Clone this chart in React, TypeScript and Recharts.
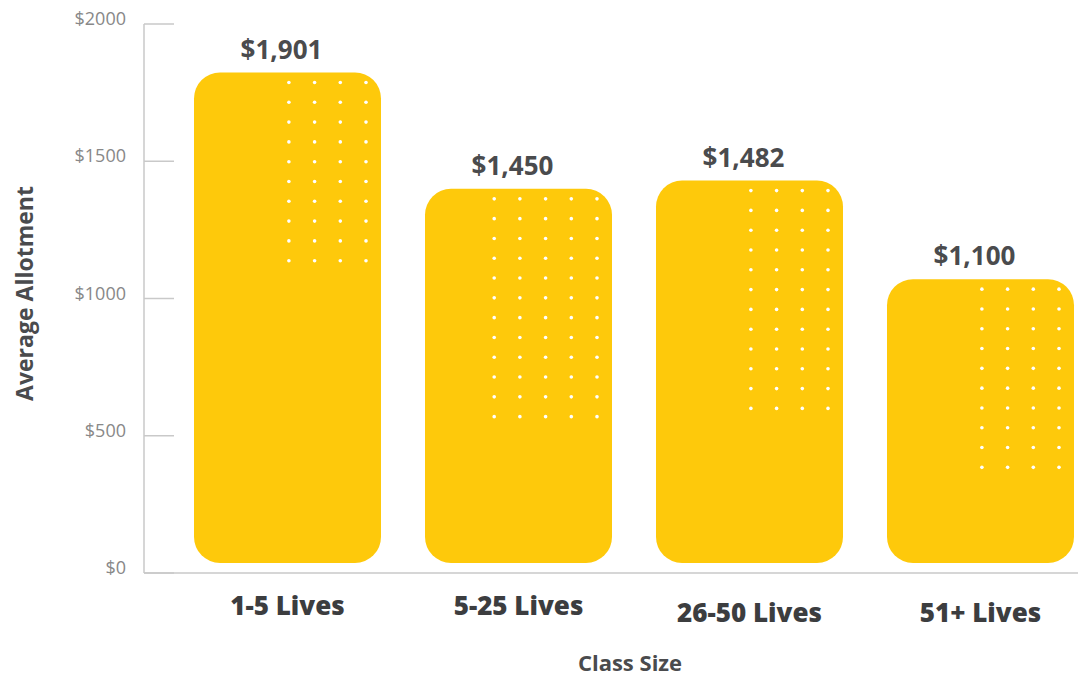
import { ComposedChart, Bar, Line, XAxis, YAxis, LabelList, Rectangle } from "recharts";

const categories = ["1-5 Lives", "5-25 Lives", "26-50 Lives", "51+ Lives"];
const allotments = [1901, 1450, 1482, 1100];
const yTicks = [0, 500, 1000, 1500, 2000];

// decoration only: dot grid size per bar
const dotCols = [4, 5, 4, 4];
const dotRows = [10, 12, 12, 10];

const data = categories.map((c, i) => ({ classSize: c, allotment: allotments[i] }));

const FONT = "'Open Sans', 'DejaVu Sans', sans-serif";
const YELLOW = "#FEC90B";
const AXIS = "#c9c9c9";
const DARK = "#4a4b4d";

function DottedBar(props: any) {
    const { x, y, width, height, index } = props;
    const dots = [];
    const right = x + width - 15;
    for (let c = 0; c < dotCols[index]; c++) {
        for (let r = 0; r < dotRows[index]; r++) {
            dots.push(
                <circle
                    key={`${c}-${r}`}
                    cx={right - (dotCols[index] - 1 - c) * 25.7}
                    cy={y + 10 + r * 19.8}
                    r={1.8}
                    fill="#fff"
                />
            );
        }
    }
    return (
        <g>
            <defs>
                <clipPath id={`bar-clip-${index}`}>
                    <Rectangle x={x} y={y} width={width} height={height} radius={26} />
                </clipPath>
            </defs>
            <Rectangle x={x} y={y} width={width} height={height} radius={26} fill={YELLOW} />
            <g clipPath={`url(#bar-clip-${index})`}>{dots}</g>
        </g>
    );
}

function YTick(props: any) {
    const { x, y, payload } = props;
    return (
        <g>
            <line x1={x} x2={x + 30} y1={y} y2={y} stroke={AXIS} strokeWidth={1.5} />
            <text
                x={x - 18}
                y={y - 6}
                textAnchor="end"
                dominantBaseline="central"
                fill="#888888"
                fontSize={18}
                fontFamily={FONT}
                fontWeight={400}
            >
                ${payload.value}
            </text>
        </g>
    );
}

function XTick(props: any) {
    const { x, y, payload, index } = props;
    return (
        <text
            x={x}
            y={y + (index >= 2 ? 47 : 40)}
            textAnchor="middle"
            fill="#3c3d3f"
            fontSize={26}
            fontFamily={FONT}
            fontWeight={800}
        >
            {payload.value}
        </text>
    );
}

function ValueLabel(props: any) {
    const { x, y, width, value } = props;
    return (
        <text
            x={x + width / 2 - 6}
            y={y - 14}
            textAnchor="middle"
            fill={DARK}
            fontSize={26}
            fontFamily={FONT}
            fontWeight={700}
        >
            ${value.toLocaleString("en-US")}
        </text>
    );
}

export default function App() {
    return (
        <div
            style={{
                position: "absolute",
                left: 0,
                top: 0,
                width: 1078,
                height: 677,
                overflow: "hidden",
                background: "#fff",
            }}
        >
            <ComposedChart
                width={1100}
                height={677}
                data={data}
                margin={{ top: 24, right: 4, bottom: 0, left: 0 }}
            >
                <XAxis
                    dataKey="classSize"
                    height={104}
                    padding={{ left: 28, right: 0 }}
                    axisLine={{ stroke: AXIS, strokeWidth: 1.5 }}
                    tickLine={false}
                    tickSize={0}
                    tick={<XTick />}
                    interval={0}
                    label={{
                        content: ({ viewBox }: any) => (
                            <text
                                x={viewBox.x + viewBox.width / 2 + 10}
                                y={viewBox.y + 98}
                                textAnchor="middle"
                                fill={DARK}
                                fontSize={22}
                                fontFamily={FONT}
                                fontWeight={700}
                            >
                                Class Size
                            </text>
                        ),
                    }}
                />
                <YAxis
                    yAxisId="left"
                    width={144}
                    domain={[0, 2000]}
                    ticks={yTicks}
                    axisLine={{ stroke: AXIS, strokeWidth: 1.5 }}
                    tickLine={false}
                    tickSize={0}
                    tickMargin={0}
                    tick={<YTick />}
                    label={{
                        content: ({ viewBox }: any) => {
                            const cx = viewBox.x + 24;
                            const cy = viewBox.y + viewBox.height / 2 - 5;
                            return (
                                <text
                                    x={cx}
                                    y={cy}
                                    transform={`rotate(-90 ${cx} ${cy})`}
                                    textAnchor="middle"
                                    dominantBaseline="central"
                                    fill={DARK}
                                    fontSize={23}
                                    fontFamily={FONT}
                                    fontWeight={700}
                                >
                                    Average Allotment
                                </text>
                            );
                        },
                    }}
                />
                <YAxis
                    yAxisId="bars"
                    orientation="right"
                    width={0}
                    hide
                    domain={[-39, 2089]}
                    allowDataOverflow
                />
                <Bar
                    yAxisId="bars"
                    dataKey="allotment"
                    barSize={187}
                    shape={<DottedBar />}
                    isAnimationActive={false}
                >
                    <LabelList dataKey="allotment" content={<ValueLabel />} />
                </Bar>
                {/* invisible series so the visible value axis gets its scale */}
                <Line
                    yAxisId="left"
                    dataKey="allotment"
                    stroke="none"
                    dot={false}
                    activeDot={false}
                    legendType="none"
                    isAnimationActive={false}
                />
            </ComposedChart>
        </div>
    );
}
